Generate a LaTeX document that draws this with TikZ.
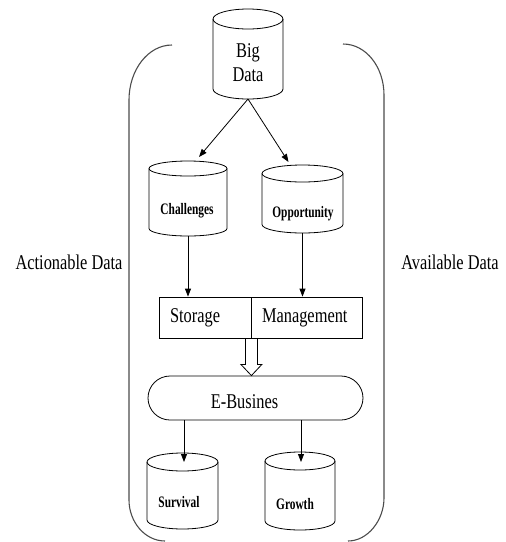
\documentclass[tikz,border=0pt]{standalone}
\usepackage{fontspec}
\setmainfont{Liberation Serif}[FakeStretch=0.78]
\newfontfamily\tagfont{Liberation Serif}[FakeStretch=0.71]
\usetikzlibrary{arrows.meta,calc}

\tikzset{
  ink/.style={draw=black, line width=0.8pt},
  flow/.style={ink, -{Triangle[length=8pt,width=6pt]}},
  maintext/.style={font=\fontsize{21}{24}\selectfont, inner sep=0pt},
  tagtext/.style={font=\tagfont\bfseries\fontsize{16}{18}\selectfont, inner sep=0pt},
  brace/.style={draw=black!70, line width=1.1pt},
  slot/.style={ink, rectangle, font=\fontsize{21}{24}\selectfont,
    inner xsep=11pt, inner ysep=0pt, minimum height=41pt, align=left},
  pill/.style={ink, rounded corners=22pt, minimum width=215pt, minimum height=44pt,
    inner sep=0pt, text height=20pt, text depth=0pt, font=\fontsize{21}{24}\selectfont},
  drumbox/.style={rectangle, inner sep=0pt, outer sep=0pt},
}

% data drum: name, left, top, right, bottom, end radius
\newcommand\datadrum[6]{%
  \node[drumbox, minimum width={#4-#2}, minimum height={#5-#3}]
    (#1) at ({(#2+#4)/2},{(#3+#5)/2}) {};
  \draw[ink] ({(#2+#4)/2},{#3+#6}) ellipse[x radius={(#4-#2)/2}, y radius=#6];
  \draw[ink] (#2,{#3+#6}) -- (#2,{#5-#6})
    arc[start angle=180, end angle=0, x radius={(#4-#2)/2}, y radius=#6]
    -- (#4,{#3+#6});
}

\begin{document}
\begin{tikzpicture}[x=1pt, y=-1pt]
\useasboundingbox (0,0) rectangle (506,542);

% side braces
\draw[brace] (172,45) .. controls (148,45) and (129,70) .. (129,100)
  -- (129,500) .. controls (129,522) and (145,541) .. (165,541);
\draw[brace] (343,44) .. controls (366,44) and (384,67) .. (384,95)
  -- (384,498) .. controls (384,520) and (368,541) .. (348,541);

% drums
\datadrum{big}{213}{9}{283}{99}{10}
\datadrum{chal}{149}{161}{227}{236}{7.5}
\datadrum{opp}{262}{165}{343}{233}{8.5}
\datadrum{surv}{147}{453}{218}{529}{9}
\datadrum{grow}{265}{452}{335}{530}{9}

\node[maintext, anchor=base] (bigA) at (248,57) {Big};
\node[maintext, anchor=base] (bigB) at (248,81) {Data};
\node[tagtext, anchor=base] (chalT) at (187,214) {Challenges};
\node[tagtext, anchor=base] (oppT) at (303,217) {Opportunity};
\node[tagtext, anchor=base] (survT) at (179,507) {Survival};
\node[tagtext, anchor=base] (growT) at (295,509) {Growth};

\node[maintext, anchor=base] (act) at (69,269) {Actionable Data};
\node[maintext, anchor=base] (avl) at (450,269) {Available Data};

% storage / management
\node[slot, text width=70pt] (stor) at (205,317.5) {Storage};
\node[slot, text width=89pt] (mgmt) at (306.5,317.5) {Management};

% e-business (label sits a little left of the middle)
\node[pill] (ebus) at (255.5,398) {\hspace*{-22pt}E-Busines};

% connectors
\coordinate (chalIn) at ($(chal.north)+(11,-4)$);
\coordinate (oppIn) at ($(opp.north)+(-14,-3)$);
\draw[flow] (big.south) -- (chalIn);
\draw[flow] (big.south) -- (oppIn);
\draw[flow] (chal.south) -- (chal.south |- stor.north);
\draw[flow] (opp.south) -- (opp.south |- mgmt.north);
\draw[flow] ($(ebus.south -| surv.north)+(1.5,0)$) -- ($(surv.north)+(1.5,9)$);
\draw[flow] ($(ebus.south -| grow.north)+(1,0)$) -- ($(grow.north)+(1,10)$);

% hollow arrow from the two boxes down to e-business
\coordinate (jn) at (stor.south east);
\coordinate (tip) at (jn |- ebus.north);
\draw[ink, line join=miter] ($(jn)+(-6,0)$) -- ($(jn)+(-6,26)$) -- ($(jn)+(-10.5,26)$)
  -- (tip) -- ($(jn)+(10.5,26)$) -- ($(jn)+(6,26)$) -- ($(jn)+(6,0)$);
\end{tikzpicture}
\end{document}
